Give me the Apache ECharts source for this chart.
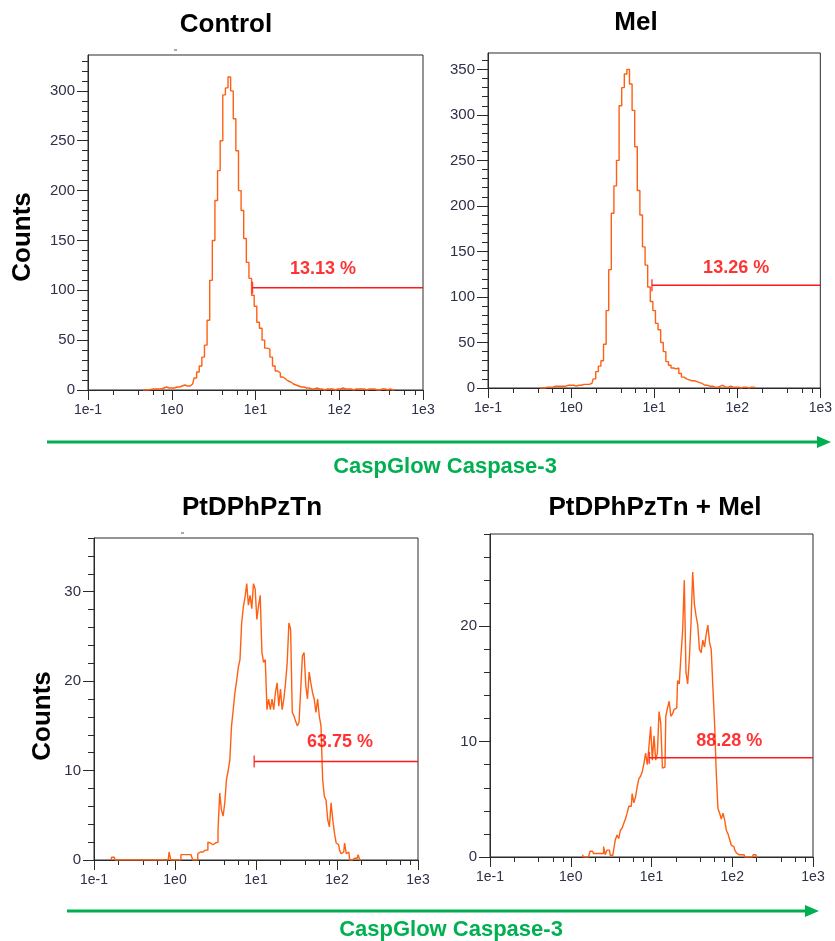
<!DOCTYPE html>
<html><head><meta charset="utf-8">
<script src="https://cdn.jsdelivr.net/npm/echarts@6/dist/echarts.min.js"></script>
<style>html,body{margin:0;padding:0;background:#fff}#c{width:835px;height:941px}</style>
</head><body><div id="c"></div>
<script>
// ---------------- data ----------------
const panelTitles = ['Control', 'Mel', 'PtDPhPzTn', 'PtDPhPzTn + Mel'];
const yAxisName = 'Counts';
const xAxisName = 'CaspGlow Caspase-3';
const xTickValues = [0.1, 1, 10, 100, 1000];
const xTickLabels = ['1e-1', '1e0', '1e1', '1e2', '1e3'];
const xMinorTickValues = [0.2, 0.4, 0.6, 0.8, 2, 4, 6, 8, 20, 40, 60, 80, 200, 400, 600, 800];
const yMaxValues = [336, 368, 36, 28];
const yMajorTicks = [
  [0, 50, 100, 150, 200, 250, 300],
  [0, 50, 100, 150, 200, 250, 300, 350],
  [0, 10, 20, 30],
  [0, 10, 20]
];
const yMinorStep = [10, 10, 2, 2];
// histogram channels: value = 10^(bin / binsPerDecade)
const binsPerDecade = [32, 32, 48, 48];
const firstBin = [-11, -12, -38, 7];

const controlCounts = [
  0, 0, 0, 0.5, 1, 1, 1, 1, 2, 3, 2, 2, 2, 3, 3, 4, 5, 4, 4, 6,
  12, 18, 24, 33, 45, 70, 110, 150, 190, 220, 250, 296, 303, 314, 300, 272, 240, 200, 180, 152,
  128, 112, 95, 84, 68, 62, 50, 42, 41, 33, 24, 19, 17, 13, 11, 9, 8, 6, 5, 4,
  3, 3, 2, 2,
  1, 1, 2, 1, 1, 0, 1, 1, 1, 0, 1, 1, 2, 1, 1, 1, 0, 1, 1, 1, 1, 0, 1, 1, 1, 0, 0, 1, 1, 0, 1, 0, 0
];
const melCounts = [
  0, 0, 0, 1, 1, 1, 2, 2, 2, 2, 2, 3, 3, 3, 2, 3, 3, 4, 4, 4,
  5, 10, 18, 24, 30, 48, 85, 130, 192, 222, 250, 310, 330, 345, 350, 334, 305, 265, 217, 190,
  155, 135, 111, 95, 85, 71, 64, 50, 40, 29, 25, 22, 21, 22, 16, 12, 10, 9, 8, 8,
  7, 6, 5, 3, 3, 2, 2, 1, 1, 2, 3, 1, 1, 2, 1, 1, 1, 0, 1, 1, 0, 1, 1, 0
];
const ptCounts = [
  0, 0.3, 0.3,
  0, 0, 0, 0, 0, 0, 0, 0, 0, 0, 0, 0, 0, 0, 0, 0, 0, 0, 0, 0, 0, 0, 0, 0, 0, 0, 0, 0, 0, 0, 0, 0,
  0.9, 0, 0, 0, 0, 0, 0,
  0.6, 0.6, 0.6, 0.6, 0.6, 0.6, 0.6, 0, 0, 0,
  0.7, 0.9, 0.9, 0.9, 1.1, 1.1, 2, 1.9, 1.7, 1.7, 1.9, 2,
  3.4, 7.5, 5.6, 4.9, 6.4, 9, 10, 11.2, 15, 16.8, 18.7, 20, 21.5, 22.4, 26.5, 28.3, 29.4, 30.9, 28.5, 29.6,
  28.1, 30.9, 30.3, 26.9, 28.4, 29.6, 23.2, 22.1, 22.4, 16.8, 18, 16.8, 18, 16.8, 18.7, 19.8, 17.2, 19.1, 16.8, 18,
  19.8, 22.1, 26.5, 25.8, 16.5, 16.1, 15.5, 15, 15.4, 19.1, 22.8, 23.2, 19.5, 18, 21, 19.8, 18.7, 18, 16.5, 18,
  16.1, 15, 9, 7.1, 6.7, 4.5, 3.7, 6.4, 4.5, 3, 1.9, 1.7, 1.1, 0.7, 0.9, 1.9, 0.7, 0.9, 0, 0,
  0.2, 0.2, 0.2, 0.6, 0
];
const ptMelCounts = [
  0.2, 0, 0, 0, 0, 0.5, 0.5, 0.3, 0.3, 0.3, 0.3, 0.3, 0.3, 0.9, 0.2, 0.6, 0.6, 0.15, 0.15, 0.6,
  1.5, 1.9, 1.6, 2.3, 2.5, 2.9, 3.3, 3.8, 4.4, 4.4, 5.5, 4.7, 5.2, 6.1, 6.8, 7, 7.4, 8.1, 9, 8,
  9.6, 11.3, 8.4, 10.5, 8.4, 9, 12.6, 11.6, 7.7, 7.8, 12.2, 12.9, 13.5, 12.2, 12.4, 12.8, 12.9, 15.3, 15, 17.4,
  19.6, 24, 16, 15, 17.2, 20.3, 24.7, 21.9, 20.9, 20.1, 18, 17.7, 18.8, 18.2, 19.3, 20.1, 18.6, 18, 14.7, 11.6,
  7.3, 4.2, 3.8, 3.3, 3.8, 3.2, 2.3, 2, 1.5, 1, 0.9, 0.6, 0.35, 0.2, 0.2, 0.2, 0.2, 0, 0, 0,
  0, 0, 0.2, 0.2, 0
];
const allCounts = [controlCounts, melCounts, ptCounts, ptMelCounts];

const gateStart = [9.2, 9.4, 9.5, 9.4];
const gateEnd = [1000, 1000, 1000, 1000];
const gateLevel = [102.6, 112.8, 11.0, 8.6];
const gateText = ['13.13 %', '13.26 %', '63.75 %', '88.28 %'];

// ---------------- layout / style ----------------
const grids = [
  { left: 88, top: 55, width: 335, height: 335 },
  { left: 488, top: 53, width: 335, height: 335 },
  { left: 94, top: 538, width: 324, height: 322 },
  { left: 490, top: 534, width: 323, height: 323 }
];
const gateLabelX = [64, 97, 109, 92];
const gateLabelDy = [-19, -17, -20, -17];
const titlePos = [[226, 25], [636, 23], [252, 508], [655, 508]];
const countsPos = [[23, 237], [43, 716]];
const arrows = [{ x1: 47, x2: 831, y: 442, tx: 445, ty: 467 }, { x1: 67, x2: 819, y: 911, tx: 451, ty: 930 }];

const HIST = '#ff5f12';
const RED = '#ff1a1a';
const GREEN = '#00b050';
const AXIS = '#2a2a2a';
const TICKCOLOR = '#2d3047';
const TICKFONT = "'Liberation Sans', Arial, sans-serif";

function pairs(i) {
  return allCounts[i].map((c, j) => [Math.pow(10, (firstBin[i] + j) / binsPerDecade[i]), c]);
}
function minorTicks(i) {
  const out = [];
  for (let v = 0; v <= yMaxValues[i] + 1e-9; v += yMinorStep[i]) {
    if (yMajorTicks[i].indexOf(v) < 0) out.push(v);
  }
  return out;
}

const xAxes = [], yAxes = [], series = [];
grids.forEach((g, i) => {
  xAxes.push({
    type: 'log', logBase: 10, gridIndex: i, min: 0.1, max: 1000, position: 'bottom',
    axisLine: { show: true, lineStyle: { color: AXIS, width: 1 } },
    axisTick: { show: true, length: 10, customValues: xTickValues, lineStyle: { color: AXIS } },
    axisLabel: {
      show: true, customValues: xTickValues, margin: 13, fontSize: 14, color: TICKCOLOR,
      fontFamily: TICKFONT,
      formatter: v => xTickLabels[xTickValues.findIndex(t => Math.abs(t - v) / t < 1e-6)]
    },
    splitLine: { show: false }, minorTick: { show: false }
  });
  xAxes.push({
    type: 'log', logBase: 10, gridIndex: i, min: 0.1, max: 1000, position: 'bottom', offset: 0,
    axisLine: { show: false },
    axisTick: { show: true, length: 5, customValues: xMinorTickValues, lineStyle: { color: AXIS } },
    axisLabel: { show: false }, splitLine: { show: false }
  });
  yAxes.push({
    type: 'value', gridIndex: i, min: 0, max: yMaxValues[i], position: 'left',
    axisLine: { show: true, lineStyle: { color: AXIS, width: 1 } },
    axisTick: { show: true, length: 11, customValues: yMajorTicks[i], lineStyle: { color: AXIS } },
    axisLabel: { show: true, customValues: yMajorTicks[i], margin: 13, fontSize: 15, color: TICKCOLOR, fontFamily: TICKFONT },
    splitLine: { show: false }
  });
  yAxes.push({
    type: 'value', gridIndex: i, min: 0, max: yMaxValues[i], position: 'left', offset: 0,
    axisLine: { show: false },
    axisTick: { show: true, length: 6, customValues: minorTicks(i), lineStyle: { color: AXIS } },
    axisLabel: { show: false }, splitLine: { show: false }
  });
  series.push({
    type: 'line', xAxisIndex: 2 * i, yAxisIndex: 2 * i, data: pairs(i), step: 'middle',
    symbol: 'none', lineStyle: { color: HIST, width: 1.4 }, silent: true, animation: false
  });
  series.push({
    type: 'line', xAxisIndex: 2 * i, yAxisIndex: 2 * i,
    data: [[gateStart[i], gateLevel[i]], [gateEnd[i], gateLevel[i]]],
    symbol: 'none', lineStyle: { color: RED, width: 1.5 }, silent: true, animation: false, z: 3
  });
  series.push({
    type: 'scatter', xAxisIndex: 2 * i, yAxisIndex: 2 * i,
    data: [[gateStart[i], gateLevel[i]]], symbol: 'rect', symbolSize: [1.5, 12],
    itemStyle: { color: RED }, silent: true, animation: false, z: 3
  });
  series.push({
    type: 'scatter', xAxisIndex: 2 * i, yAxisIndex: 2 * i,
    data: [[gateLabelX[i], gateLevel[i]]], symbolSize: 0,
    label: {
      show: true, position: 'inside', offset: [0, gateLabelDy[i]], formatter: gateText[i],
      color: '#ff0000', fontWeight: 'bold', fontSize: 18, fontFamily: "'Liberation Sans', Arial, sans-serif"
    },
    silent: true, animation: false, z: 4
  });
});

const graphic = [];
panelTitles.forEach((t, i) => {
  graphic.push({
    type: 'text', x: titlePos[i][0], y: titlePos[i][1],
    style: { text: t, font: "bold 26px 'Liberation Sans', Arial, sans-serif", fill: '#000', align: 'center', verticalAlign: 'middle' }
  });
});
countsPos.forEach(p => {
  graphic.push({
    type: 'text', x: p[0], y: p[1], rotation: Math.PI / 2,
    style: { text: yAxisName, font: "bold 26px 'Liberation Sans', Arial, sans-serif", fill: '#000', align: 'center', verticalAlign: 'middle' }
  });
});
arrows.forEach(a => {
  graphic.push({ type: 'line', shape: { x1: a.x1, y1: a.y, x2: a.x2 - 12, y2: a.y }, style: { stroke: GREEN, lineWidth: 3 } });
  graphic.push({ type: 'polygon', shape: { points: [[a.x2, a.y], [a.x2 - 14, a.y - 6], [a.x2 - 14, a.y + 6]] }, style: { fill: GREEN } });
  graphic.push({
    type: 'text', x: a.tx, y: a.ty,
    style: { text: xAxisName, font: "bold 22px 'Liberation Sans', Arial, sans-serif", fill: GREEN, align: 'center', verticalAlign: 'middle' }
  });
});
// small stray dash marks above the left panels
graphic.push({ type: 'line', shape: { x1: 174, y1: 50, x2: 177, y2: 50 }, style: { stroke: '#555', lineWidth: 1 } });
graphic.push({ type: 'line', shape: { x1: 181, y1: 533, x2: 184, y2: 533 }, style: { stroke: '#555', lineWidth: 1 } });

const chart = echarts.init(document.getElementById('c'), null, { renderer: 'canvas' });
chart.setOption({
  animation: false,
  backgroundColor: '#ffffff',
  grid: grids.map(g => Object.assign({ show: true, borderColor: AXIS, borderWidth: 1, backgroundColor: 'transparent', containLabel: false }, g)),
  xAxis: xAxes,
  yAxis: yAxes,
  series: series,
  graphic: graphic
});
</script>
</body></html>
